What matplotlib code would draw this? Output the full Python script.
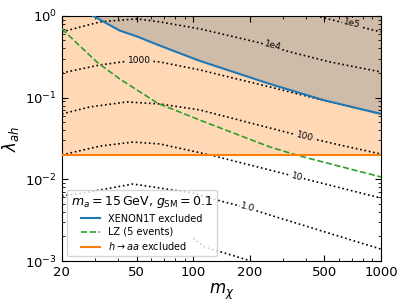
import numpy as np
import matplotlib
matplotlib.use("Agg")
import matplotlib.pyplot as plt

# curves (m_chi, lambda_ah)
xenon_m = [29.3, 33.0, 36.0, 40.7, 50.2, 66.5, 108.7, 256, 491, 1000]
xenon_lam = [1.0, 0.86, 0.77, 0.66, 0.56, 0.432, 0.281, 0.147, 0.0936, 0.0631]

lz_m = [20, 24.9, 31.1, 40.7, 50.2, 65.0, 108.7, 256, 370, 1000]
lz_lam = [0.693, 0.429, 0.266, 0.169, 0.124, 0.085, 0.053, 0.0249, 0.0193, 0.0107]

haa_lam = 0.02

# dotted iso-lines, one pair of lists per level
iso_levels = ["1e5", "1e4", "1000", "100", "10", "1.0", "0.1"]
iso_m = {
    "1e5": [450, 473, 701, 1000],
    "1e4": [20, 31.9, 50.2, 66.5, 108.7, 226.8, 328, 535, 1000],
    "1000": [20, 31.9, 50.2, 66.5, 108.7, 256, 535, 1000],
    "100": [20, 28.2, 44.4, 66.5, 108.7, 256, 394, 605, 1000],
    "10": [20, 31.9, 47.8, 66.5, 122.8, 256, 357, 1000],
    "1.0": [20, 25.9, 47.8, 100, 133.9, 195.7, 256, 1000],
    "0.1": [100, 115.5, 130.6, 195.7, 220],
}
iso_lam = {
    "1e5": [1.0, 0.972, 0.776, 0.637],
    "1e4": [0.637, 0.844, 0.919, 0.844, 0.693, 0.467, 0.362, 0.273, 0.206],
    "1000": [0.200, 0.251, 0.289, 0.273, 0.218, 0.135, 0.0885, 0.0631],
    "100": [0.0631, 0.0769, 0.0885, 0.0836, 0.0706, 0.0425, 0.0330, 0.0263, 0.0204],
    "10": [0.0199, 0.0255, 0.0286, 0.0271, 0.0199, 0.0130, 0.0107, 0.0059],
    "1.0": [0.00625, 0.0068, 0.00877, 0.0068, 0.00558, 0.00446, 0.00366, 0.0014],
    "0.1": [0.0019, 0.00148, 0.00136, 0.00103, 0.0009],
}
# label position, rotation and backdrop colour
iso_labels = {
    "1e5": (701, 0.80, -13, "#cfbca8"),
    "1e4": (266, 0.435, -14, "#cfbca8"),
    "1000": (52, 0.283, 0, "#ffd9b7"),
    "100": (394, 0.0335, -14, "#ffd9b7"),
    "10": (357, 0.0108, -14, "white"),
    "1.0": (196, 0.00452, -15, "white"),
}

fig, ax = plt.subplots(figsize=(4.07, 3.05), dpi=100)
fig.subplots_adjust(left=0.152, right=0.936, bottom=0.144, top=0.948)

ax.set_xscale("log")
ax.set_yscale("log")
ax.set_xlim(20, 1000)
ax.set_ylim(1e-3, 1)

# excluded regions
ax.fill_between([20, 1000], haa_lam, 1, color="C1", alpha=0.3, lw=0, zorder=1)
ax.fill_between(xenon_m, xenon_lam, 1, color="#cfbca8", lw=0, zorder=1.5)

for lev in iso_levels:
    ax.plot(iso_m[lev], iso_lam[lev], color="k", ls=":", lw=1.2, zorder=2)
for lev, (xm, yl, rot, bg) in iso_labels.items():
    ax.text(xm, yl, lev, fontsize=6.5, rotation=rot, ha="center", va="center",
            zorder=2.5, bbox=dict(boxstyle="square,pad=0.15", fc=bg, ec="none"))

ax.plot(xenon_m, xenon_lam, color="C0", lw=1.5, zorder=3, label="XENON1T excluded")
ax.plot(lz_m, lz_lam, color="C2", ls="--", lw=1.2, zorder=3, label="LZ (5 events)")
ax.axhline(haa_lam, color="C1", lw=1.5, zorder=3, label=r"$h\to aa$ excluded")

ax.set_xticks([20, 50, 100, 200, 500, 1000])
ax.set_xticklabels(["20", "50", "100", "200", "500", "1000"])
ax.tick_params(which="both", direction="in", top=True, right=True, labelsize=9.5)
ax.tick_params(which="major", length=4)
ax.tick_params(which="minor", length=2)

ax.set_xlabel(r"$m_\chi$", fontsize=12, labelpad=2)
ax.set_ylabel(r"$\lambda_{ah}$", fontsize=12, labelpad=3)

leg = ax.legend(loc="lower left", fontsize=7, labelspacing=0.35,
                title=r"$m_a = 15\,\mathrm{GeV}$, $g_{\mathrm{SM}} = 0.1$",
                title_fontsize=9)
leg.set_zorder(5)

plt.savefig("out.png", dpi=100)
